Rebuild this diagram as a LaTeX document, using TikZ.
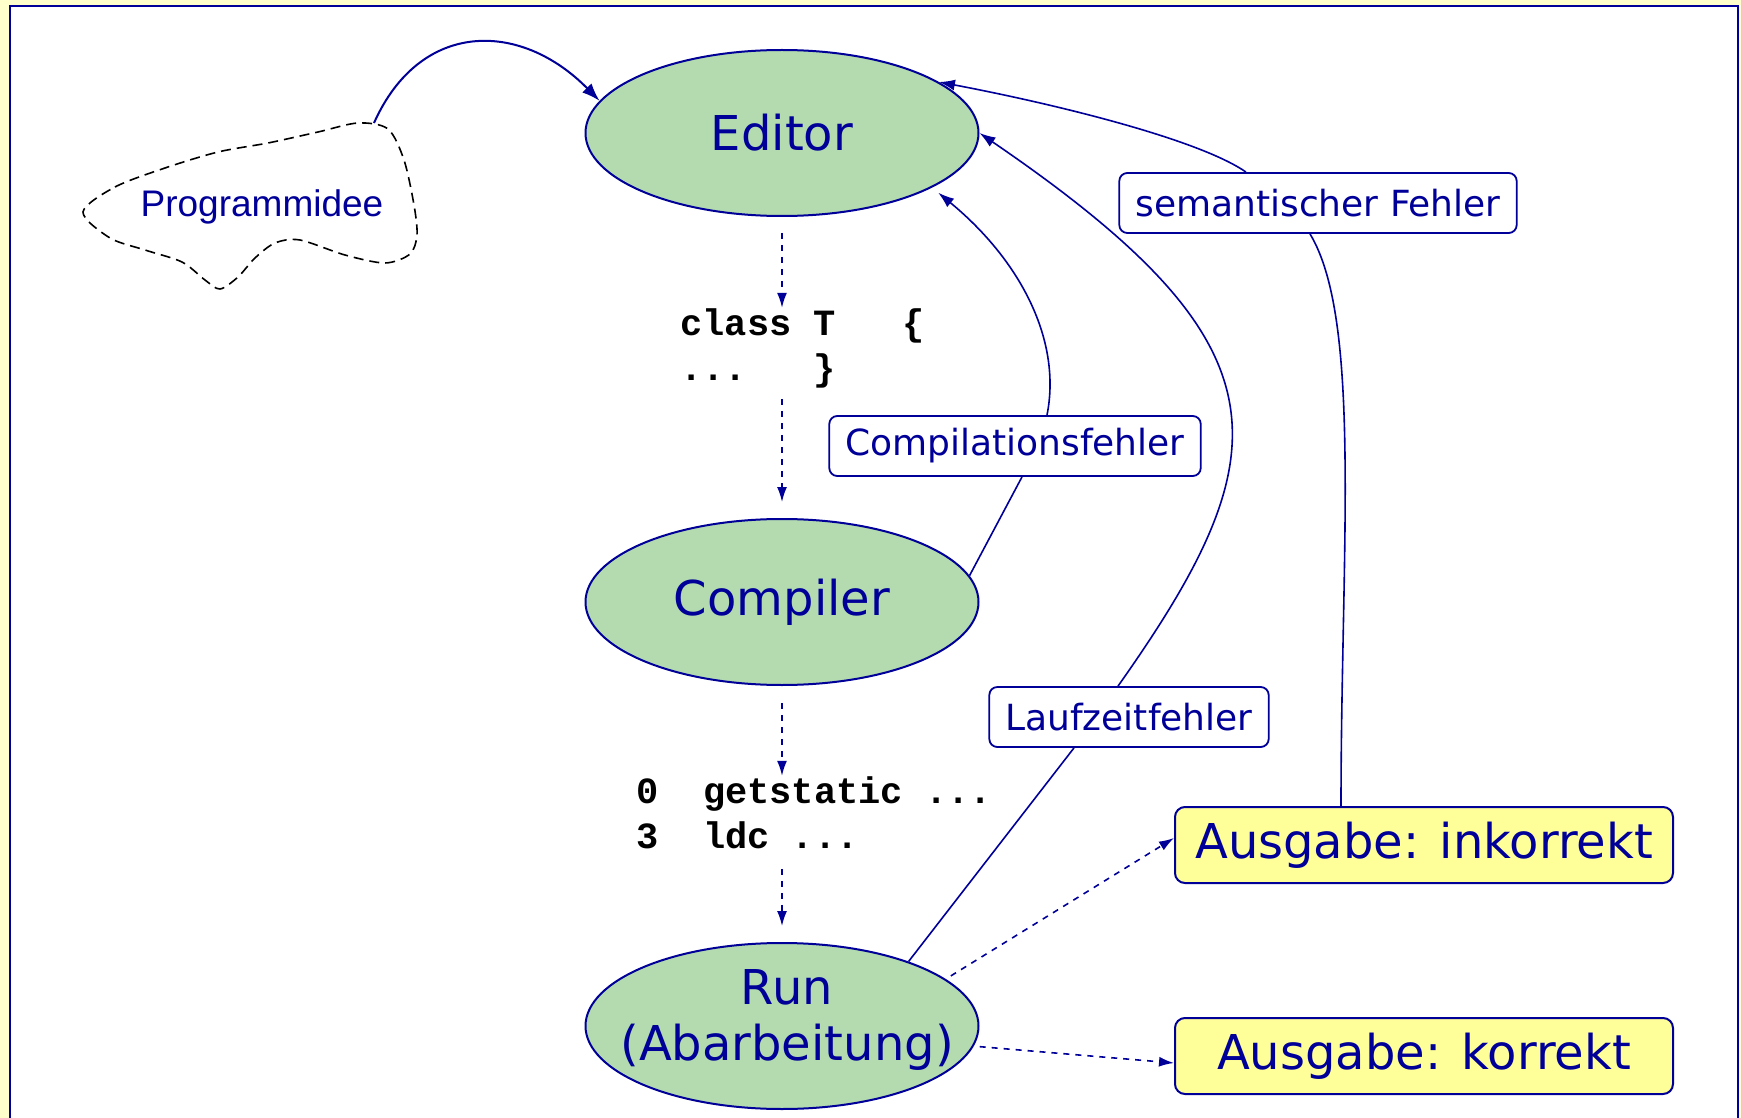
\documentclass[tikz,border=0pt]{standalone}
\usepackage{fontspec}
\setmainfont{DejaVu Sans}
\setmonofont{Liberation Mono}
\newfontfamily\ideefont{Liberation Sans}
\usetikzlibrary{shapes.geometric,arrows.meta}
\definecolor{navy}{HTML}{000099}
\definecolor{stagegreen}{HTML}{B3DBAF}
\definecolor{outyellow}{HTML}{FFFF99}
\definecolor{pagebg}{HTML}{FFFFCC}
\begin{document}
\begin{tikzpicture}[x=0.5pt,y=0.5pt,
  stage/.style={ellipse,draw=navy,line width=1pt,fill=stagegreen,text=navy,
    minimum width=196.5pt,minimum height=83pt,
    font=\fontsize{24}{28}\selectfont},
  stagetext/.style={text=navy,align=center,font=\fontsize{24}{28}\selectfont},
  fault/.style={rectangle,rounded corners=4pt,draw=navy,line width=0.9pt,fill=white,
    text=navy,minimum height=30pt,inner xsep=8pt,font=\fontsize{18}{21}\selectfont},
  outbox/.style={rectangle,rounded corners=5pt,draw=navy,line width=1pt,fill=outyellow,
    text=navy,minimum width=249pt,minimum height=38pt,font=\fontsize{24}{28}\selectfont},
  code/.style={inner sep=0pt,align=left,font=\ttfamily\bfseries\fontsize{18.5}{22.5}\selectfont},
  link/.style={draw=navy,line width=0.8pt},
  flow/.style={link,-{Latex[length=8pt,width=5.5pt]}},
  dflow/.style={link,dashed,-{Latex[length=7.5pt,width=5pt]}}]
\useasboundingbox (0,0) rectangle (1741,-1118);
\fill[pagebg] (0,0) rectangle (1741,-1118);
\fill[white] (10,-6) rectangle (1738,-1118);
\draw[navy,line width=1.2pt] (10,-1118) -- (10,-6) -- (1738,-6) -- (1738,-1118);

\draw[line width=0.8pt,dash pattern=on 5pt off 3pt] plot[smooth cycle] coordinates {
  (83,-212) (115,-187) (165,-168) (218,-152) (268,-143) (318,-132) (358,-123)
  (388,-129) (404,-160) (414,-205) (417,-235) (410,-254) (385,-263) (345,-255)
  (300,-240) (275,-243) (255,-258) (238,-277) (220,-289) (205,-280) (182,-262)
  (145,-250) (110,-238)};
\node[text=navy,font=\ideefont\fontsize{18.5}{22}\selectfont] (idee) at (262,-207) {Programmidee};
\coordinate (ideetop) at (374,-123);

\node[stage] (editor) at (782,-133) {Editor};
\node[stage] (compiler) at (782,-602) {Compiler};
\node[stage] (run) at (782,-1026) {};
\node[stagetext] (runtext) at (787,-1020) {Run\\(Abarbeitung)};

\node[code,anchor=base west] (source) at (680,-380) {class~T~~~\{\\...~~~\}};
\node[code,anchor=base west] (bytecode) at (636,-848) {0~~getstatic~...\\3~~ldc~...};

\node[fault] (cfehler) at (1015,-446) {Compilationsfehler};
\node[fault] (lfehler) at (1129,-717) {Laufzeitfehler};
\node[fault] (sfehler) at (1318,-203) {semantischer Fehler};
\node[outbox] (falsch) at (1424,-845) {Ausgabe: inkorrekt};
\node[outbox] (richtig) at (1424,-1056) {Ausgabe: korrekt};

\draw[flow,line width=1pt,-{Latex[length=9pt,width=6.5pt]}] (ideetop) .. controls (420,-20) and (520,-20) .. (editor.170);

\draw[dflow,shorten <=8pt] (editor.south) -- (editor.south |- source.north);
\draw[dflow,shorten <=5.5pt,shorten >=8pt] (editor.south |- source.south) -- (compiler.north);
\draw[dflow,shorten <=8.5pt] (compiler.south) -- (compiler.south |- bytecode.north);
\draw[dflow,shorten <=10pt,shorten >=8pt] (compiler.south |- bytecode.south) -- (run.north);

\draw[link] (compiler.8) -- ([xshift=3.5pt]cfehler.south);
\draw[flow,shorten >=4pt] ([xshift=16pt]cfehler.north) .. controls (1062,-340) and (1020,-260) .. (editor.-20);

\draw[link] (run.27) -- ([xshift=-27.5pt]lfehler.south);
\draw[flow] ([xshift=-5.5pt]lfehler.north) .. controls (1285,-450) and (1290,-345) .. (editor.east);

\draw[link] ([xshift=-41.5pt]falsch.north) .. controls (1341,-550) and (1362,-320) .. ([xshift=-4pt]sfehler.south);
\draw[flow] ([xshift=-36pt]sfehler.north) .. controls (1200,-140) and (1060,-105) .. (editor.18);

\draw[dflow,shorten <=3pt] (run.16) -- ([yshift=3.5pt]falsch.west);
\draw[dflow,shorten <=3pt] (run.-6) -- ([yshift=-3.5pt]richtig.west);
\end{tikzpicture}
\end{document}
